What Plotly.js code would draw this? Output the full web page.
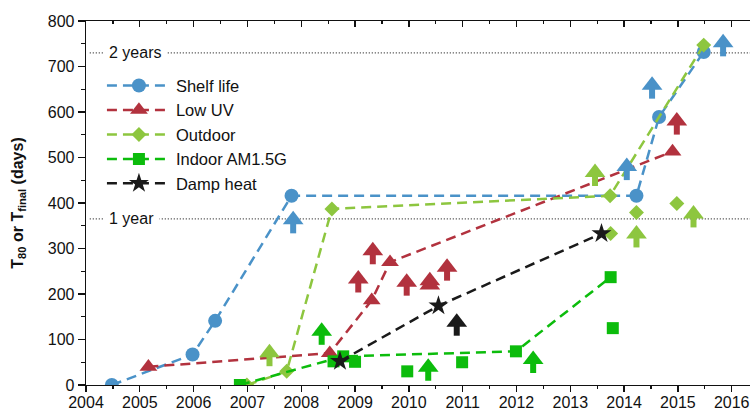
<!DOCTYPE html>
<html><head><meta charset="utf-8">
<script src="https://cdn.plot.ly/plotly-3.0.1.min.js"></script>
<style>html,body{margin:0;padding:0;background:#fff}#chart{width:750px;height:411px}</style>
</head><body><div id="chart"></div>
<script>
// ---- data (year, days) ----
const shelfYear = [2004.48, 2005.98, 2006.40, 2007.82, 2014.23, 2014.65, 2015.48];
const shelfDays = [0, 67, 141, 416, 416, 589, 732];
const shelfArrowYear = [2007.85, 2014.05, 2014.52, 2015.84];
const shelfArrowDays = [363, 480, 659, 752];

const uvYear = [2005.16, 2008.53, 2009.31, 2009.65, 2014.90];
const uvDays = [40, 70, 186, 270, 513];
const uvArrowYear = [2009.06, 2009.33, 2009.96, 2010.71, 2014.98];
const uvArrowDays = [233, 295, 226, 259, 580];
const uvHeadYear = [2010.39, 2010.39];
const uvHeadDays = [229, 220];

const outYear = [2006.99, 2007.73, 2008.57, 2013.74, 2015.48];
const outDays = [0, 30, 387, 416, 747];
const outExtraYear = [2013.75, 2014.23, 2014.98];
const outExtraDays = [333, 379, 399];
const outArrowYear = [2007.41, 2013.46, 2014.23, 2015.29];
const outArrowDays = [71, 467, 332, 376];

const inYear = [2006.86, 2008.78, 2011.99, 2013.75];
const inDays = [0, 63, 74, 237];
const inExtraYear = [2008.60, 2009.00, 2009.97, 2010.99, 2013.79];
const inExtraDays = [52, 51, 30, 50, 125];
const inArrowYear = [2008.38, 2010.36, 2012.31];
const inArrowDays = [118, 39, 56];

const dampYear = [2008.72, 2010.55, 2013.58];
const dampDays = [52, 174, 333];
const dampArrowYear = [2010.89];
const dampArrowDays = [138];

const refDays = [365, 730];
const refLabels = ['1 year', '2 years'];
const seriesNames = ['Shelf life', 'Low UV', 'Outdoor', 'Indoor AM1.5G', 'Damp heat'];
const xTickVals = [2004, 2005, 2006, 2007, 2008, 2009, 2010, 2011, 2012, 2013, 2014, 2015, 2016];
const yTickVals = [0, 100, 200, 300, 400, 500, 600, 700, 800];

// ---- styles ----
const C = {blue:'#4a92c8', red:'#b2323e', lgreen:'#8dc63f', green:'#0cbc0c', black:'#1a1a1a'};
const xRange = [2004, 2016.34];
const dash = '10px,6px';
const font = 'Liberation Sans, Arial, Helvetica, sans-serif';

function lineTrace(x, y, name, color, symbol, size) {
  return {type:'scatter', mode:'lines+markers', x:x, y:y, name:name, hoverinfo:'skip',
    line:{color:color, width:2.5, dash:dash},
    marker:{symbol:symbol, size:size, color:color, line:{width:0}}};
}
function ptsTrace(x, y, color, symbol, size) {
  return {type:'scatter', mode:'markers', x:x, y:y, showlegend:false, hoverinfo:'skip',
    marker:{symbol:symbol, size:size, color:color, line:{width:0}}};
}
function arrowTraces(x, y, color) {
  return [
    {type:'scatter', mode:'markers', x:x, y:y, showlegend:false, hoverinfo:'skip',
      marker:{symbol:'line-ns', size:10, standoff:6.5, color:color, line:{color:color, width:6}}},
    {type:'scatter', mode:'markers', x:x, y:y, showlegend:false, hoverinfo:'skip',
      marker:{symbol:'triangle-up', size:18, color:color, line:{width:0}}}
  ];
}

const traces = [
  lineTrace(shelfYear, shelfDays, seriesNames[0], C.blue, 'circle', 14),
  lineTrace(uvYear, uvDays, seriesNames[1], C.red, 'triangle-up', 15.5),
  lineTrace(outYear, outDays, seriesNames[2], C.lgreen, 'diamond', 11.5),
  lineTrace(inYear, inDays, seriesNames[3], C.green, 'square', 12),
  ptsTrace(outExtraYear, outExtraDays, C.lgreen, 'diamond', 11.5),
  ptsTrace(inExtraYear, inExtraDays, C.green, 'square', 12),
  ptsTrace(uvHeadYear, uvHeadDays, C.red, 'triangle-up', 18),
  ...arrowTraces(shelfArrowYear, shelfArrowDays, C.blue),
  ...arrowTraces(uvArrowYear, uvArrowDays, C.red),
  ...arrowTraces(outArrowYear, outArrowDays, C.lgreen),
  ...arrowTraces(inArrowYear, inArrowDays, C.green),
  ...arrowTraces(dampArrowYear, dampArrowDays, C.black),
  lineTrace(dampYear, dampDays, seriesNames[4], C.black, 'star', 15),
  {type:'scatter', mode:'markers', x:[], y:[], xaxis:'x2', showlegend:false, hoverinfo:'skip'}
];

const shapes = refDays.map(d => ({type:'line', xref:'x', yref:'y', x0:2004.07, x1:xRange[1], y0:d, y1:d,
  line:{color:'#333', width:1.2, dash:'1px,2px'}, layer:'below'}));
const annotations = refDays.map((d, i) => ({xref:'x', yref:'y', x:2004.32, y:d, xanchor:'left', yanchor:'middle',
  text:refLabels[i], showarrow:false, bgcolor:'#fff', borderpad:5, font:{size:16, color:'#111', family:font}}));

const axisCommon = {showgrid:false, zeroline:false, showline:true, linecolor:'#111', linewidth:1.3,
  tickcolor:'#111', tickwidth:1.3};

const layout = {
  width:750, height:411,
  margin:{l:86, r:0, t:21, b:26},
  paper_bgcolor:'#fff', plot_bgcolor:'#fff',
  font:{family:font, size:16, color:'#111'},
  showlegend:true,
  legend:{x:0.024, y:0.87, xanchor:'left', yanchor:'top', bgcolor:'rgba(0,0,0,0)', font:{size:16.5}, itemwidth:64},
  xaxis:Object.assign({}, axisCommon, {range:xRange, tickvals:xTickVals, ticks:'outside', ticklen:6,
    minor:{dtick:0.5, tick0:2004, ticks:'outside', ticklen:3, tickcolor:'#111', tickwidth:1.2},
    tickfont:{size:16}, ticklabelstandoff:-4}),
  xaxis2:Object.assign({}, axisCommon, {range:xRange, overlaying:'x', side:'top', anchor:'y',
    tickvals:xTickVals, ticks:'inside', ticklen:6, showticklabels:false,
    minor:{dtick:0.5, tick0:2004, ticks:'inside', ticklen:3, tickcolor:'#111', tickwidth:1.2}}),
  yaxis:Object.assign({}, axisCommon, {range:[0, 800], tickvals:yTickVals, ticks:'outside', ticklen:7,
    minor:{dtick:50, tick0:0, ticks:'outside', ticklen:3.5, tickcolor:'#111', tickwidth:1.2},
    tickfont:{size:16},
    title:{text:'<b>T<sub>80</sub> or T<sub>final</sub> (days)</b>', font:{size:16}, standoff:20}}),
  shapes:shapes,
  annotations:annotations
};

Plotly.newPlot('chart', traces, layout, {displayModeBar:false, staticPlot:true});
</script>
</body></html>
